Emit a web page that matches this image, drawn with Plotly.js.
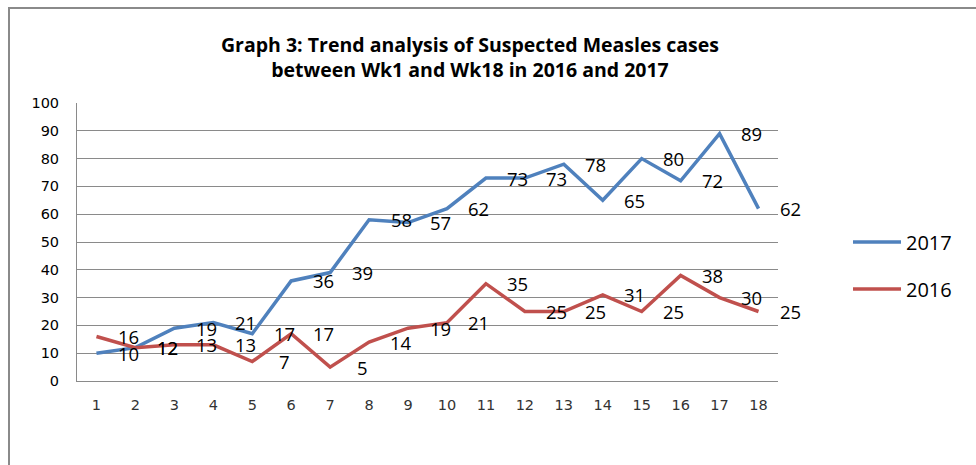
<!DOCTYPE html>
<html>
<head>
<meta charset="utf-8">
<script src="https://cdn.plot.ly/plotly-3.0.1.min.js"></script>
<style>
  html, body { margin: 0; padding: 0; background: #fff; }
  #wrap { position: relative; width: 976px; height: 465px; }
  #chart { width: 976px; height: 465px; }
  #frame { position: absolute; left: 8px; top: 7px; right: 0; bottom: 0;
           border-left: 2px solid #8a8a8a; border-top: 2px solid #8a8a8a; pointer-events: none; }
</style>
</head>
<body>
<div id="wrap"><div id="chart"></div><div id="frame"></div></div>
<script>
const weeks = [1,2,3,4,5,6,7,8,9,10,11,12,13,14,15,16,17,18];
const cases2017 = [10,12,19,21,17,36,39,58,57,62,73,73,78,65,80,72,89,62];
const cases2016 = [16,12,13,13,7,17,5,14,19,21,35,25,25,31,25,38,30,25];
const seriesNames = ['2017', '2016'];
const titleText = 'Graph 3: Trend analysis of Suspected Measles cases<br>between Wk1 and Wk18 in 2016 and 2017';

const blue = '#4F81BD', red = '#C0504D';

const traces = [
  { x: weeks, y: cases2017, name: seriesNames[0], type: 'scatter', mode: 'lines',
    line: { color: blue, width: 3.5 }, legend: 'legend' },
  { x: weeks, y: cases2016, name: seriesNames[1], type: 'scatter', mode: 'lines',
    line: { color: red, width: 3.5 }, legend: 'legend2' }
];

const labelFont = { family: 'Open Sans, sans-serif', size: 18.5, color: '#000' };
const annotations = [];
[cases2017, cases2016].forEach(arr => {
  arr.forEach((v, i) => {
    annotations.push({ x: weeks[i], y: v, xref: 'x', yref: 'y', text: String(v),
      showarrow: false, xshift: 32, font: labelFont });
  });
});

const legendFont = { family: 'Open Sans, sans-serif', size: 20, color: '#000' };

const layout = {
  width: 976, height: 465,
  margin: { l: 77, r: 198, t: 103, b: 84 },
  paper_bgcolor: '#fff', plot_bgcolor: '#fff',
  title: { text: titleText, x: 470/976, xanchor: 'center', xref: 'container',
    y: 1 - 52/465, yanchor: 'top', yref: 'container',
    font: { family: 'Open Sans, sans-serif', size: 19.5, color: '#000', weight: 'bold' } },
  xaxis: { range: [0.5, 18.5], tickvals: weeks, ticktext: weeks.map(String),
    showgrid: false, zeroline: false, showline: true, linecolor: '#8a8a8a', linewidth: 1,
    ticks: '', ticklabelstandoff: 11,
    tickfont: { family: 'DejaVu Sans, sans-serif', size: 14.5, color: '#333' } },
  yaxis: { range: [0, 100], dtick: 10, showgrid: true, gridcolor: '#8a8a8a', gridwidth: 1,
    zeroline: false, showline: true, linecolor: '#8a8a8a', linewidth: 1, ticks: '',
    ticklabelstandoff: 14,
    tickfont: { family: 'DejaVu Sans, sans-serif', size: 14.5, color: '#000' } },
  showlegend: true,
  legend: { x: (848-77)/701, y: (381-242)/278, xanchor: 'left', yanchor: 'middle',
    itemwidth: 48, font: legendFont, bgcolor: 'rgba(0,0,0,0)' },
  legend2: { x: (848-77)/701, y: (381-289)/278, xanchor: 'left', yanchor: 'middle',
    itemwidth: 48, font: legendFont, bgcolor: 'rgba(0,0,0,0)' },
  annotations: annotations
};

Plotly.newPlot('chart', traces, layout, { displayModeBar: false, responsive: false });
</script>
</body>
</html>
